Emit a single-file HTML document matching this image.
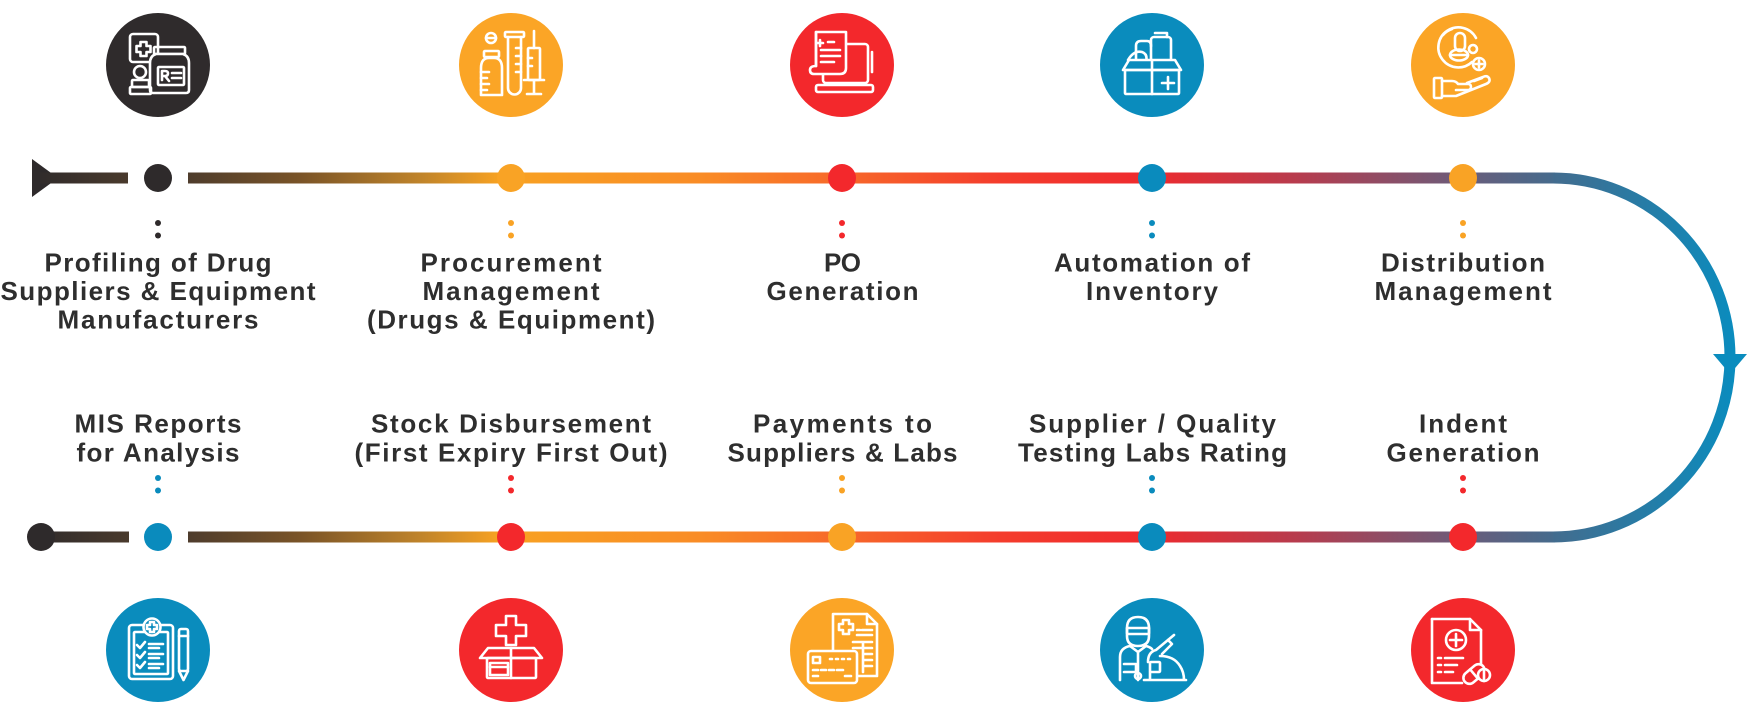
<!DOCTYPE html>
<html>
<head>
<meta charset="utf-8">
<style>
  html,body{margin:0;padding:0;background:#fff;}
  svg{display:block;}
  .lbl{font-family:"Liberation Sans",Arial,sans-serif;font-weight:bold;font-size:26px;fill:#2e2e2e;}
  .ic{fill:none;stroke:#fff;stroke-width:2.6;stroke-linejoin:round;stroke-linecap:round;}
</style>
</head>
<body>
<svg width="1752" height="714" viewBox="0 0 1752 714" xmlns="http://www.w3.org/2000/svg">
  <defs>
    <linearGradient id="lead" gradientUnits="userSpaceOnUse" x1="30" y1="0" x2="130" y2="0">
      <stop offset="0" stop-color="#2e2a2b"/>
      <stop offset="1" stop-color="#4a3a2c"/>
    </linearGradient>
    <linearGradient id="main" gradientUnits="userSpaceOnUse" x1="188" y1="0" x2="1560" y2="0">
      <stop offset="0" stop-color="#4e3c2c"/>
      <stop offset="0.082" stop-color="#7a5428"/>
      <stop offset="0.170" stop-color="#c0842a"/>
      <stop offset="0.228" stop-color="#f8a222"/>
      <stop offset="0.373" stop-color="#f98c26"/>
      <stop offset="0.477" stop-color="#f7682a"/>
      <stop offset="0.592" stop-color="#f43c2c"/>
      <stop offset="0.700" stop-color="#ee2a2e"/>
      <stop offset="0.810" stop-color="#b63c4e"/>
      <stop offset="0.929" stop-color="#6a5c7a"/>
      <stop offset="1" stop-color="#436c8e"/>
    </linearGradient>
    <linearGradient id="arc" gradientUnits="userSpaceOnUse" x1="1553" y1="0" x2="1735" y2="0">
      <stop offset="0" stop-color="#436c8e"/>
      <stop offset="1" stop-color="#0a8cbe"/>
    </linearGradient>
  </defs>

  <!-- ===== TOP TRACK ===== -->
  <polygon points="32,159 58,178 32,197" fill="#2e2a2b"/>
  <rect x="40" y="172.5" width="88" height="11" fill="url(#lead)"/>
  <rect x="188" y="172.5" width="1367" height="11" fill="url(#main)"/>
  <!-- ===== BOTTOM TRACK ===== -->
  <rect x="41" y="531.5" width="88" height="11" fill="url(#lead)"/>
  <circle cx="41" cy="537" r="14" fill="#2e2a2b"/>
  <rect x="188" y="531.5" width="1367" height="11" fill="url(#main)"/>
  <!-- ===== ARC ===== -->
  <path d="M1553,178 A177,179.5 0 0 1 1553,537" fill="none" stroke="url(#arc)" stroke-width="11"/>
  <polygon points="1713,354 1747,354 1730,374" fill="#0a8cbe"/>

  <!-- ===== TOP DOTS ===== -->
  <circle cx="158" cy="178" r="14" fill="#2e2a2b"/>
  <circle cx="511" cy="178" r="14" fill="#f9a325"/>
  <circle cx="842" cy="178" r="14" fill="#f3282c"/>
  <circle cx="1152" cy="178" r="14" fill="#0a8bbd"/>
  <circle cx="1463" cy="178" r="14" fill="#f9a325"/>
  <!-- ===== BOTTOM DOTS ===== -->
  <circle cx="158" cy="537" r="14" fill="#0a8bbd"/>
  <circle cx="511" cy="537" r="14" fill="#f3282c"/>
  <circle cx="842" cy="537" r="14" fill="#f9a325"/>
  <circle cx="1152" cy="537" r="14" fill="#0a8bbd"/>
  <circle cx="1463" cy="537" r="14" fill="#f3282c"/>

  <!-- small connector dots top -->
  <g>
    <circle cx="158" cy="223" r="3" fill="#2e2a2b"/><circle cx="158" cy="235.5" r="3" fill="#2e2a2b"/>
    <circle cx="511" cy="223" r="3" fill="#f9a325"/><circle cx="511" cy="235.5" r="3" fill="#f9a325"/>
    <circle cx="842" cy="223" r="3" fill="#f3282c"/><circle cx="842" cy="235.5" r="3" fill="#f3282c"/>
    <circle cx="1152" cy="223" r="3" fill="#0a8bbd"/><circle cx="1152" cy="235.5" r="3" fill="#0a8bbd"/>
    <circle cx="1463" cy="223" r="3" fill="#f9a325"/><circle cx="1463" cy="235.5" r="3" fill="#f9a325"/>
  </g>
  <!-- small connector dots bottom -->
  <g>
    <circle cx="158" cy="478" r="3" fill="#0a8bbd"/><circle cx="158" cy="490.5" r="3" fill="#0a8bbd"/>
    <circle cx="511" cy="478" r="3" fill="#f3282c"/><circle cx="511" cy="490.5" r="3" fill="#f3282c"/>
    <circle cx="842" cy="478" r="3" fill="#f9a325"/><circle cx="842" cy="490.5" r="3" fill="#f9a325"/>
    <circle cx="1152" cy="478" r="3" fill="#0a8bbd"/><circle cx="1152" cy="490.5" r="3" fill="#0a8bbd"/>
    <circle cx="1463" cy="478" r="3" fill="#f3282c"/><circle cx="1463" cy="490.5" r="3" fill="#f3282c"/>
  </g>

  <!-- ===== TOP LABELS ===== -->
  <g class="lbl" text-anchor="middle">
    <text x="158" y="271.5" textLength="227" lengthAdjust="spacing">Profiling of Drug</text>
    <text x="158" y="300" textLength="315" lengthAdjust="spacing">Suppliers &amp; Equipment</text>
    <text x="158" y="328.5" textLength="201" lengthAdjust="spacing">Manufacturers</text>

    <text x="511" y="271.5" textLength="181" lengthAdjust="spacing">Procurement</text>
    <text x="511" y="300" textLength="177" lengthAdjust="spacing">Management</text>
    <text x="511" y="328.5" textLength="288" lengthAdjust="spacing">(Drugs &amp; Equipment)</text>

    <text x="842.5" y="271.5" textLength="37" lengthAdjust="spacing">PO</text>
    <text x="842.5" y="300" textLength="152" lengthAdjust="spacing">Generation</text>

    <text x="1152" y="271.5" textLength="196" lengthAdjust="spacing">Automation of</text>
    <text x="1152" y="300" textLength="132" lengthAdjust="spacing">Inventory</text>

    <text x="1463" y="271.5" textLength="164" lengthAdjust="spacing">Distribution</text>
    <text x="1463" y="300" textLength="177" lengthAdjust="spacing">Management</text>
  </g>

  <!-- ===== BOTTOM LABELS ===== -->
  <g class="lbl" text-anchor="middle">
    <text x="158" y="432.5" textLength="167" lengthAdjust="spacing">MIS Reports</text>
    <text x="158" y="461.5" textLength="163" lengthAdjust="spacing">for Analysis</text>

    <text x="511" y="432.5" textLength="280" lengthAdjust="spacing">Stock Disbursement</text>
    <text x="511" y="461.5" textLength="313" lengthAdjust="spacing">(First Expiry First Out)</text>

    <text x="842.5" y="432.5" textLength="179" lengthAdjust="spacing">Payments to</text>
    <text x="842.5" y="461.5" textLength="230" lengthAdjust="spacing">Suppliers &amp; Labs</text>

    <text x="1152.5" y="432.5" textLength="247" lengthAdjust="spacing">Supplier / Quality</text>
    <text x="1152.5" y="461.5" textLength="269" lengthAdjust="spacing">Testing Labs Rating</text>

    <text x="1463" y="432.5" textLength="88" lengthAdjust="spacing">Indent</text>
    <text x="1463" y="461.5" textLength="153" lengthAdjust="spacing">Generation</text>
  </g>

  <!-- ===== TOP ICONS ===== -->
  <!-- 1: dark -->
  <circle cx="158" cy="65" r="52" fill="#2f2b2c"/>
  <g class="ic">
    <rect x="130" y="34" width="28" height="28" rx="3"/>
    <path d="M140.5,42 h6 v4 h4 v6 h-4 v4 h-6 v-4 h-4 v-6 h4 z"/>
    <rect x="154" y="47" width="31" height="7" rx="1"/>
    <path d="M156,54 h27 q6,2 6,9 v27 q0,3 -3,3 h-33 q-3,0 -3,-3 v-27 q0,-7 6,-9 z" fill="#2f2b2c"/>
    <rect x="158" y="67" width="26" height="18" rx="1"/>
    <path d="M162,80 v-9 h3 q3,0 3,2.5 q0,2.5 -3,2.5 h-3 m3,0 l4,5"/>
    <path d="M172,73 h9 M172,78 h9"/>
    <circle cx="140" cy="72" r="6"/>
    <rect x="132" y="80" width="17" height="7" rx="1"/>
    <rect x="130" y="87" width="21" height="7" rx="1"/>
  </g>

  <!-- 2: orange -->
  <circle cx="511" cy="65" r="52" fill="#fba526"/>
  <g class="ic">
    <circle cx="491" cy="38" r="5"/>
    <path d="M486,38 h10"/>
    <rect x="484" y="51" width="15" height="6" rx="1"/>
    <path d="M481,95 V68 Q481,58 489,58 H494 Q502,58 502,68 V95 Z"/>
    <path d="M481,72 h8 M481,78 h6 M481,84 h8 M481,90 h6"/>
    <rect x="505" y="32" width="19" height="5" rx="1"/>
    <path d="M508,37 V88 a6.5,6.5 0 0 0 13,0 V37"/>
    <path d="M516,48 h5 M516,56 h5 M516,64 h5 M516,72 h5"/>
    <path d="M534,31 v17"/>
    <rect x="528" y="48" width="12" height="32" rx="1"/>
    <path d="M524,80 h20 M534,80 v13 M527,94 h14 M528,58 h4 M528,66 h4"/>
  </g>

  <!-- 3: red -->
  <circle cx="842" cy="65" r="52" fill="#f3282c"/>
  <g class="ic">
    <rect x="823" y="44" width="45" height="39" rx="3"/>
    <path d="M872,52 v20"/>
    <rect x="816" y="85" width="57" height="7" rx="2"/>
    <path d="M816,32 H846 V68 Q846,74 840,74 H814 Q810,74 810,70 Q810,66 816,66 Z" fill="#f3282c"/>
    <path d="M816,66 V32"/>
    <path d="M820,40 v6 M817,43 h6 M828,42 h6 M821,50 h19 M821,56 h19 M821,62 h13"/>
  </g>

  <!-- 4: blue -->
  <circle cx="1152" cy="65" r="52" fill="#0a8cbd"/>
  <g class="ic">
    <rect x="1151" y="37" width="20" height="27" rx="3"/>
    <path d="M1155,33 h12 v4"/>
    <path d="M1136,64 V46 q0,-5 5,-5 h6 q4,0 4,5"/>
    <path d="M1128,60 q6,-10 14,-8 q6,2 4,10"/>
    <path d="M1123,70 L1129,60 H1175 L1181,70 Z" fill="#0a8cbd"/>
    <rect x="1125" y="70" width="54" height="24" rx="1"/>
    <path d="M1152,60 V94 M1168,77 v12 M1162,83 h12"/>
  </g>

  <!-- 5: orange -->
  <circle cx="1463" cy="65" r="52" fill="#fba526"/>
  <g class="ic">
    <path d="M1476,38 A20,20 0 1 0 1472,62"/>
    <path d="M1443,35 A20,20 0 0 1 1452,29"/>
    <rect x="1455" y="33" width="10" height="18" rx="5"/>
    <ellipse cx="1459" cy="55" rx="9" ry="5.5"/>
    <path d="M1450,55 h18"/>
    <circle cx="1473" cy="49" r="4"/>
    <circle cx="1479" cy="64" r="6" fill="#fba526"/>
    <path d="M1479,60.5 v7 M1475.5,64 h7"/>
    <rect x="1434" y="78" width="8" height="20" rx="1"/>
    <path d="M1442,81 h10 q4,0 6,3 h10 q3,0 3,3 q0,3 -3,3 h-12"/>
    <path d="M1442,96 h14 l30,-12 q5,-2 3,-6 q-2,-3 -6,-1 l-16,6"/>
    <path d="M1474,81 l8,-3"/>
  </g>

  <!-- ===== BOTTOM ICONS ===== -->
  <!-- 1: blue -->
  <circle cx="158" cy="650" r="52" fill="#0a8cbd"/>
  <g class="ic">
    <rect x="129" y="625" width="44" height="54" rx="3"/>
    <rect x="134" y="632" width="34" height="42" rx="1"/>
    <circle cx="152" cy="627" r="8.5" fill="#0a8cbd"/>
    <path d="M150,622 h4 v3 h3 v4 h-3 v3 h-4 v-3 h-3 v-4 h3 z"/>
    <path d="M137,645 l3,3 l5,-6 M149,644 h14 M149,648 h10"/>
    <path d="M137,655 l3,3 l5,-6 M149,654 h14 M149,658 h10"/>
    <path d="M137,665 l3,3 l5,-6 M149,664 h14 M149,668 h10"/>
    <rect x="179" y="629" width="9" height="42" rx="2"/>
    <path d="M179,636 h9 M179,671 l4.5,9 l4.5,-9"/>
  </g>

  <!-- 2: red -->
  <circle cx="511" cy="650" r="52" fill="#f3282c"/>
  <g class="ic">
    <path d="M506,616 h10 v9 h10 v11 h-10 v9 h-10 v-9 h-10 v-11 h10 z"/>
    <path d="M480,658 L488,648 H534 L542,658 Z" fill="#f3282c"/>
    <rect x="487" y="658" width="49" height="20" rx="1"/>
    <path d="M511,648 V678"/>
    <rect x="490" y="663" width="18" height="12"/>
    <path d="M490,667 h18"/>
  </g>

  <!-- 3: orange -->
  <circle cx="842" cy="650" r="52" fill="#fba526"/>
  <g class="ic">
    <path d="M833,614 H867 L877,624 V676 H833 Z"/>
    <path d="M867,614 V624 H877"/>
    <path d="M843,620 h6 v4 h4 v6 h-4 v4 h-6 v-4 h-4 v-6 h4 z"/>
    <path d="M857,630 h3 M862,630 h10 M857,635 h15 M853,642 h19 M853,648 h19 M863,642 V672 M863,654 h9 M863,660 h9 M863,666 h9"/>
    <rect x="808" y="651" width="49" height="32" rx="3" fill="#fba526"/>
    <rect x="813" y="657" width="7" height="6"/>
    <path d="M830,659 h2 M836,659 h2 M842,659 h2 M848,659 h2 M813,670 h5 M821,670 h5 M829,670 h5 M837,670 h6 M813,676 h5 M845,676 h6"/>
  </g>

  <!-- 4: blue -->
  <circle cx="1152" cy="650" r="52" fill="#0a8cbd"/>
  <g class="ic">
    <path d="M1127,628 q0,-11 11,-11 q11,0 11,11"/>
    <path d="M1127,628 v8 q0,10 11,10 q11,0 11,-10 v-8"/>
    <rect x="1127" y="628" width="22" height="6" rx="1"/>
    <path d="M1120,680 V657 q0,-9 10,-11 l8,6 l8,-6 q4,1 6,3"/>
    <path d="M1138,652 V680 M1124,664 h12 v8 h-12"/>
    <circle cx="1138" cy="676" r="3"/>
    <path d="M1148,662 q0,-10 8,-12 l12,-10 l4,4 l-10,10"/>
    <path d="M1168,640 l6,-5"/>
    <rect x="1150" y="662" width="10" height="10" rx="1"/>
    <path d="M1160,656 q14,0 20,10 q4,6 4,14 M1144,680 h42 M1150,672 v8"/>
  </g>

  <!-- 5: red -->
  <circle cx="1463" cy="650" r="52" fill="#f3282c"/>
  <g class="ic">
    <path d="M1432,619 H1470 L1481,630 V664"/>
    <path d="M1470,619 V630 H1481"/>
    <path d="M1462,683 H1432 V619"/>
    <circle cx="1456" cy="640" r="10"/>
    <path d="M1456,634 v12 M1450,640 h12"/>
    <path d="M1438,658 h3 M1445,658 h18 M1438,665 h3 M1445,665 h12 M1438,672 h3 M1445,672 h8"/>
    <g transform="rotate(-40 1474 674)">
      <rect x="1462" y="668" width="24" height="12" rx="6" fill="#f3282c"/>
      <path d="M1474,668 v12"/>
    </g>
    <circle cx="1484" cy="675" r="6" fill="#f3282c"/>
    <path d="M1484,669 v12"/>
  </g>
</svg>
</body>
</html>
